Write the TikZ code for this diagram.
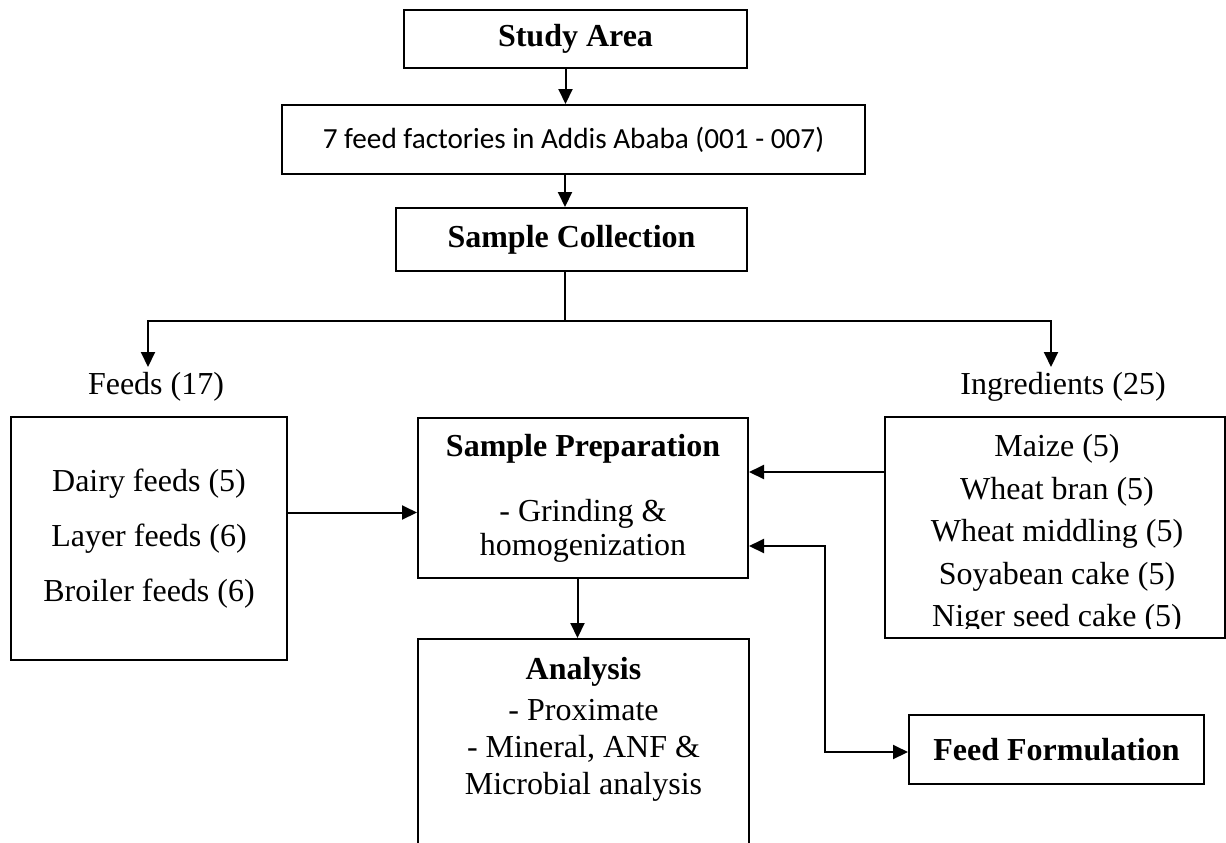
\documentclass[tikz,border=0pt]{standalone}
\usepackage{fontspec}
\setmainfont{Liberation Serif}
\newfontfamily\calib{Carlito}
\usetikzlibrary{arrows.meta}
\begin{document}
\begin{tikzpicture}[x=0.5pt, y=-0.5pt,
    box/.style={draw, line width=1pt, inner sep=0pt, align=center,
      font=\fontsize{16}{19}\selectfont},
    lbl/.style={inner sep=0pt, font=\fontsize{16}{19}\selectfont},
    arr/.style={line width=1pt, -{Triangle[length=7.5pt, width=7pt]}},
    arrtwo/.style={line width=1pt, {Triangle[length=7.5pt, width=7pt]}-{Triangle[length=7.5pt, width=7pt]}}]
  \useasboundingbox (0, 0) rectangle (1226, 842);
  \clip (0, 0) rectangle (1226, 842);
  \node[box, minimum width=171.5pt, minimum height=29pt] (area) at (575.5, 39)
    {\textbf{Study Area}};
  \node[box, minimum width=291.5pt, minimum height=34.5pt] (factories) at (573.5, 139.5)
    {\calib\fontsize{14.6}{17}\selectfont 7 feed factories in Addis Ababa (001 - 007)};
  \node[box, minimum width=175.5pt, minimum height=31.5pt] (collect) at (571.5, 239.5)
    {\textbf{Sample Collection}};
  \node[lbl] (feeds) at (156, 387) {Feeds (17)};
  \node[lbl] (ingr) at (1063, 387) {Ingredients (25)};
  \node[box, minimum width=138pt, minimum height=121.5pt, font=\fontsize{16}{27.5}\selectfont]
    (feedbox) at (149, 538.5) {Dairy feeds (5)\\ Layer feeds (6)\\ Broiler feeds (6)};
  \node[box, minimum width=165pt, minimum height=80pt, font=\fontsize{16}{17}\selectfont]
    (prep) at (583, 498) {\textbf{Sample Preparation}\\[15.5pt] - Grinding \&\\ homogenization};
  \node[box, minimum width=170pt, minimum height=110.5pt] (ingbox) at (1055, 527.5) {};
  \begin{scope}
    \clip (885, 417) rectangle (1225, 628);
    \node[lbl, align=center, font=\fontsize{16}{21.25}\selectfont] (ingtext) at (1057, 534)
      {Maize (5)\\ Wheat bran (5)\\ Wheat middling (5)\\ Soyabean cake (5)\\ Niger seed cake (5)};
  \end{scope}
  \node[box, minimum width=165.5pt, minimum height=130pt, anchor=north] (anabox) at (583.5, 638) {};
  \node[lbl, align=center, font=\fontsize{16}{18.5}\selectfont] (anatext) at (583.5, 729)
    {\textbf{Analysis}\\[2pt] - Proximate\\ - Mineral, ANF \&\\ Microbial analysis};
  \node[box, minimum width=147.5pt, minimum height=34.5pt] (formbox) at (1056.5, 749.5)
    {\textbf{Feed Formulation}};
  \coordinate (split) at (565, 321);
  \coordinate (dropL) at (148, 367);
  \coordinate (dropR) at (1051, 367);
  \coordinate (bend) at (825, 546);
  \draw[arr] ([xshift=-5pt]area.south) -- ([xshift=-5pt]area.south |- factories.north);
  \draw[arr] ([xshift=-4.25pt]factories.south) -- ([xshift=-4.25pt]factories.south |- collect.north);
  \draw[line width=1pt] (collect.south -| split) -- (split);
  \draw[arr] (split) -| (dropL);
  \draw[arr] (split) -| (dropR);
  \draw[arr] ([yshift=13pt]feedbox.east) -- ([yshift=13pt]feedbox.east -| prep.west);
  \draw[arr] ([yshift=27.75pt]ingbox.west) -- ([yshift=27.75pt]ingbox.west -| prep.east);
  \draw[arr] ([xshift=-2.75pt]prep.south) -- ([xshift=-2.75pt]prep.south |- anabox.north);
  \draw[arrtwo] (prep.east |- bend) -- (bend) |- ([yshift=-1.25pt]formbox.west);
\end{tikzpicture}
\end{document}
